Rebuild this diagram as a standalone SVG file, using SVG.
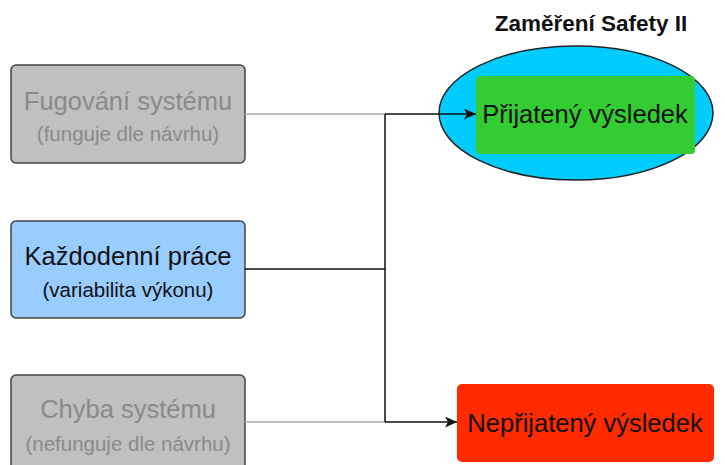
<svg xmlns="http://www.w3.org/2000/svg" width="725" height="465" viewBox="0 0 725 465">
<style>
.box{stroke:#444;stroke-width:1.5}
.grey{fill:#c0c0c0}
.t1{font-family:"Liberation Sans",Arial,sans-serif;font-size:25.5px;text-anchor:middle}
.t2{font-family:"Liberation Sans",Arial,sans-serif;font-size:20.5px;text-anchor:middle}
.dim{fill:#8a8a8a}
.blk{fill:#111}
.gl{stroke:#aaa;stroke-width:1.5;fill:none}
.bl{stroke:#111;stroke-width:1.5;fill:none}
</style>
<defs>
<marker id="ah" markerWidth="13" markerHeight="11" refX="12" refY="5.5" orient="auto" markerUnits="userSpaceOnUse">
<path d="M0,0 L12,5.5 L0,11 L3,5.5 Z" fill="#111"/>
</marker>
</defs>
<rect width="725" height="465" fill="#fff"/>
<text x="591" y="31" font-family="Liberation Sans,Arial,sans-serif" font-size="22.5" font-weight="bold" text-anchor="middle" fill="#111">Zaměření Safety II</text>
<g id="n1">
<rect class="box grey" x="11" y="65" width="234" height="98" rx="5"/>
<text class="t1 dim" x="128" y="110">Fugování systému</text>
<text class="t2 dim" x="128" y="141">(funguje dle návrhu)</text>
</g>
<g id="n2">
<rect class="box" fill="#99ccff" x="11" y="221" width="234" height="97" rx="5"/>
<text class="t1 blk" x="128" y="265">Každodenní práce</text>
<text class="t2 blk" x="128" y="297">(variabilita výkonu)</text>
</g>
<g id="n3">
<rect class="box grey" x="11" y="375" width="234" height="98" rx="5"/>
<text class="t1 dim" x="128" y="418">Chyba systému</text>
<text class="t2 dim" x="128" y="451">(nefunguje dle návrhu)</text>
</g>
<g id="n4">
<ellipse cx="576" cy="113" rx="137" ry="67" fill="#00ccff" stroke="#222" stroke-width="1.5"/>
<rect x="476" y="76" width="219" height="78" rx="4" fill="#33cc33"/>
<text class="t1 blk" x="585" y="123">Přijatený výsledek</text>
</g>
<g id="n5">
<rect x="457" y="384" width="257" height="78" rx="5" fill="#ff2a00"/>
<text class="t1 blk" x="585" y="432">Nepřijatený výsledek</text>
</g>
<g id="connectors">
<path class="gl" d="M245,114 H385"/>
<path class="gl" d="M245,422 H385"/>
<path class="bl" d="M245,269 H385"/>
<path class="bl" d="M385,114 V422"/>
<path class="bl" d="M385,114 H476" marker-end="url(#ah)"/>
<path class="bl" d="M385,422 H457" marker-end="url(#ah)"/>
</g>
</svg>
